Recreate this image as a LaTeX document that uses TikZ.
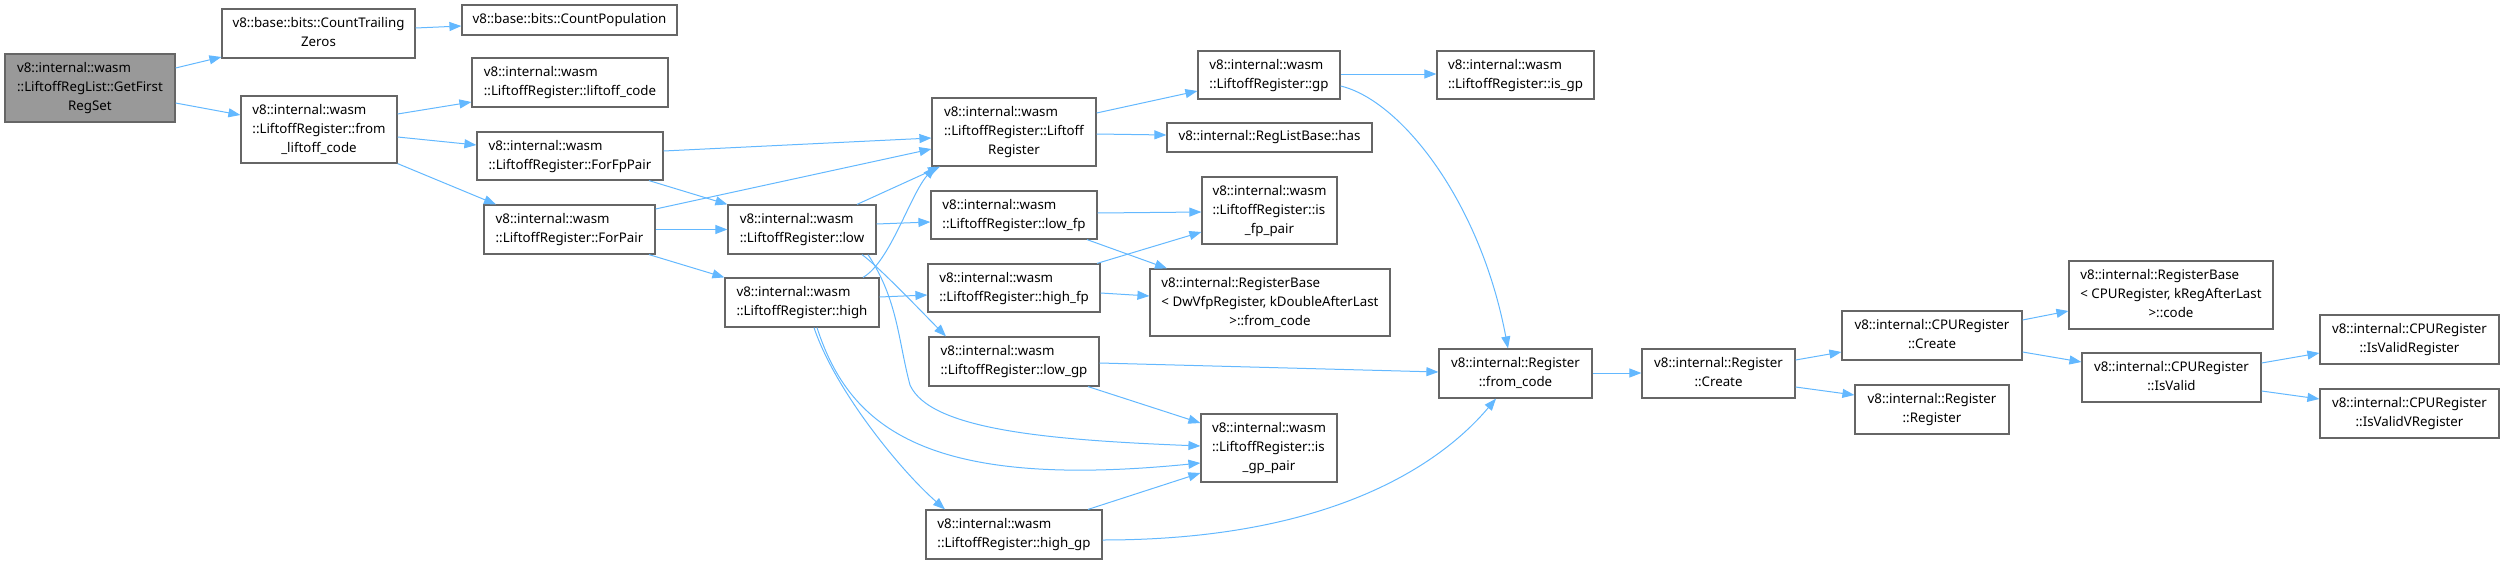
\documentclass[tikz,border=0pt]{standalone}
\usepackage{fontspec}
\setmainfont{Noto Sans}
\usetikzlibrary{arrows.meta}
\definecolor{edgec}{HTML}{63B8FF}
\definecolor{bordc}{HTML}{666666}
\definecolor{rootc}{HTML}{999999}
\newcommand{\ml}[2]{\begin{tabular}{@{}l@{}}#1\\\multicolumn{1}{@{}c@{}}{#2}\end{tabular}}
\begin{document}
\begin{tikzpicture}[x=1pt,y=-1pt,
  box/.style={draw=bordc,line width=1.2pt,fill=white,inner sep=0pt,font=\fontsize{13.3}{19}\selectfont,align=center},
  root/.style={box,fill=rootc},
  edge/.style={draw=edgec,line width=1pt,-{Triangle[length=12pt,width=9pt]}}]
\useasboundingbox (0,0) rectangle (2504,565);
% nodes
\node[root,minimum width=170pt,minimum height=68pt] (gf) at (90,88) {\ml{v8::internal::wasm\\::LiftoffRegList::GetFirst}{RegSet}};
\node[box,minimum width=193pt,minimum height=49pt] (ctz) at (318.5,33.5) {\ml{v8::base::bits::CountTrailing}{Zeros}};
\node[box,minimum width=215pt,minimum height=30pt] (cpop) at (569.5,20) {v8::base::bits::CountPopulation};
\node[box,minimum width=156pt,minimum height=67pt] (flc) at (319,129.5) {\ml{v8::internal::wasm\\::LiftoffRegister::from}{\_liftoff\_code}};
\node[box,minimum width=196pt,minimum height=49pt] (lc) at (570,82.5) {\ml{v8::internal::wasm}{::LiftoffRegister::liftoff\_code}};
\node[box,minimum width=186pt,minimum height=48pt] (ffp) at (570,156) {\ml{v8::internal::wasm}{::LiftoffRegister::ForFpPair}};
\node[box,minimum width=171pt,minimum height=49pt] (fp) at (569.5,229.5) {\ml{v8::internal::wasm}{::LiftoffRegister::ForPair}};
\node[box,minimum width=148pt,minimum height=49pt] (low) at (802,229.5) {\ml{v8::internal::wasm}{::LiftoffRegister::low}};
\node[box,minimum width=154pt,minimum height=49pt] (high) at (802,302.5) {\ml{v8::internal::wasm}{::LiftoffRegister::high}};
\node[box,minimum width=164pt,minimum height=68pt] (lr) at (1014,132) {\ml{v8::internal::wasm\\::LiftoffRegister::Liftoff}{Register}};
\node[box,minimum width=166pt,minimum height=48pt] (lowfp) at (1014,215) {\ml{v8::internal::wasm}{::LiftoffRegister::low\_fp}};
\node[box,minimum width=172pt,minimum height=48pt] (highfp) at (1014,288) {\ml{v8::internal::wasm}{::LiftoffRegister::high\_fp}};
\node[box,minimum width=170pt,minimum height=49pt] (lowgp) at (1014,361.5) {\ml{v8::internal::wasm}{::LiftoffRegister::low\_gp}};
\node[box,minimum width=176pt,minimum height=49pt] (highgp) at (1014,534.5) {\ml{v8::internal::wasm}{::LiftoffRegister::high\_gp}};
\node[box,minimum width=142pt,minimum height=48pt] (gp) at (1269,75) {\ml{v8::internal::wasm}{::LiftoffRegister::gp}};
\node[box,minimum width=205pt,minimum height=29pt] (has) at (1269.5,137.5) {v8::internal::RegListBase::has};
\node[box,minimum width=135pt,minimum height=67pt] (isfp) at (1269.5,210.5) {\ml{v8::internal::wasm\\::LiftoffRegister::is}{\_fp\_pair}};
\node[box,minimum width=240pt,minimum height=67pt] (dwvfp) at (1270,302.5) {\ml{v8::internal::RegisterBase\\< DwVfpRegister, kDoubleAfterLast}{>::from\_code}};
\node[box,minimum width=136pt,minimum height=68pt] (isgppair) at (1269,448) {\ml{v8::internal::wasm\\::LiftoffRegister::is}{\_gp\_pair}};
\node[box,minimum width=157pt,minimum height=48pt] (isgp) at (1515.5,75) {\ml{v8::internal::wasm}{::LiftoffRegister::is\_gp}};
\node[box,minimum width=153pt,minimum height=49pt] (fromcode) at (1515.5,373.5) {\ml{v8::internal::Register}{::from\_code}};
\node[box,minimum width=153pt,minimum height=49pt] (rcreate) at (1718.5,373.5) {\ml{v8::internal::Register}{::Create}};
\node[box,minimum width=180pt,minimum height=49pt] (ccreate) at (1932,335.5) {\ml{v8::internal::CPURegister}{::Create}};
\node[box,minimum width=154pt,minimum height=49pt] (rreg) at (1932,409.5) {\ml{v8::internal::Register}{::Register}};
\node[box,minimum width=204pt,minimum height=68pt] (rbcode) at (2171,295) {\ml{v8::internal::RegisterBase\\< CPURegister, kRegAfterLast}{>::code}};
\node[box,minimum width=179pt,minimum height=49pt] (isvalid) at (2171.5,377.5) {\ml{v8::internal::CPURegister}{::IsValid}};
\node[box,minimum width=179pt,minimum height=49pt] (ivr) at (2409.5,339.5) {\ml{v8::internal::CPURegister}{::IsValidRegister}};
\node[box,minimum width=179pt,minimum height=49pt] (ivvr) at (2409.5,413.5) {\ml{v8::internal::CPURegister}{::IsValidVRegister}};
% edges
\draw[edge] (gf.east |- 0,68) -- (ctz.west |- 0,57);
\draw[edge] (gf.east |- 0,103) -- (flc.west |- 0,115);
\draw[edge] (ctz.east |- 0,28) -- (cpop.west |- 0,26);
\draw[edge] (flc.east |- 0,114) -- (lc.west |- 0,102);
\draw[edge] (flc.east |- 0,137) -- (ffp.west |- 0,145);
\draw[edge] (flc.south east) -- (fp.north -| 496,0);
\draw[edge] (ffp.east |- 0,151) -- (lr.west |- 0,138);
\draw[edge] (ffp.south -| 649,0) -- (low.north west);
\draw[edge] (fp.east |- 0,209) -- (lr.west |- 0,149);
\draw[edge] (fp.east) -- (low.west);
\draw[edge] (fp.south -| 649,0) -- (high.north west);
\draw[edge] (low.north -| 857,0) -- (lr.south -| 940,0);
\draw[edge] (high.north -| 863,0) .. controls (890,262) and (910,195) .. (lr.south -| 935,0);
\draw[edge] (low.east |- 0,224) -- (lowfp.west |- 0,222);
\draw[edge] (high.east |- 0,297) -- (highfp.west |- 0,295);
\draw[edge] (low.south -| 862,0) .. controls (880,268) and (920,310) .. (lowgp.north -| 946,0);
\draw[edge] (low.south -| 868,0) .. controls (898,300) and (898,340) .. (910,385) .. controls (930,430) and (1050,440) .. (isgppair.west |- 0,446);
\draw[edge] (high.south -| 817,0) .. controls (850,430) and (930,490) .. (isgppair.west |- 0,463);
\draw[edge] (high.south -| 814,0) .. controls (835,390) and (900,470) .. (highgp.north -| 945,0);
\draw[edge] (lr.east |- 0,113) -- (gp.west |- 0,91);
\draw[edge] (lr.east |- 0,134) -- (has.west |- 0,135);
\draw[edge] (gp.east |- 0,74) -- (isgp.west |- 0,74);
\draw[edge] (gp.east |- 0,86) .. controls (1400,100) and (1480,200) .. (fromcode.north -| 1508,0);
\draw[edge] (lowfp.east |- 0,213) -- (isfp.west |- 0,212);
\draw[edge] (lowfp.south -| 1087,0) -- (dwvfp.north -| 1167,0);
\draw[edge] (highfp.north -| 1097,0) -- (isfp.west |- 0,232);
\draw[edge] (highfp.east |- 0,293) -- (dwvfp.west |- 0,296);
\draw[edge] (lowgp.east |- 0,363) -- (fromcode.west |- 0,372);
\draw[edge] (lowgp.south -| 1088,0) -- (isgppair.west |- 0,423);
\draw[edge] (highgp.north -| 1088,0) -- (isgppair.west |- 0,473);
\draw[edge] (highgp.east |- 0,540) .. controls (1330,540) and (1440,465) .. (fromcode.south -| 1496,0);
\draw[edge] (fromcode.east |- 0,373) -- (rcreate.west |- 0,373);
\draw[edge] (rcreate.east |- 0,360) -- (ccreate.west |- 0,352);
\draw[edge] (rcreate.east |- 0,387) -- (rreg.west |- 0,395);
\draw[edge] (ccreate.east |- 0,320) -- (rbcode.west |- 0,311);
\draw[edge] (ccreate.east |- 0,352) -- (isvalid.west |- 0,362);
\draw[edge] (isvalid.east |- 0,363) -- (ivr.west |- 0,353);
\draw[edge] (isvalid.east |- 0,391) -- (ivvr.west |- 0,399);
\end{tikzpicture}
\end{document}
